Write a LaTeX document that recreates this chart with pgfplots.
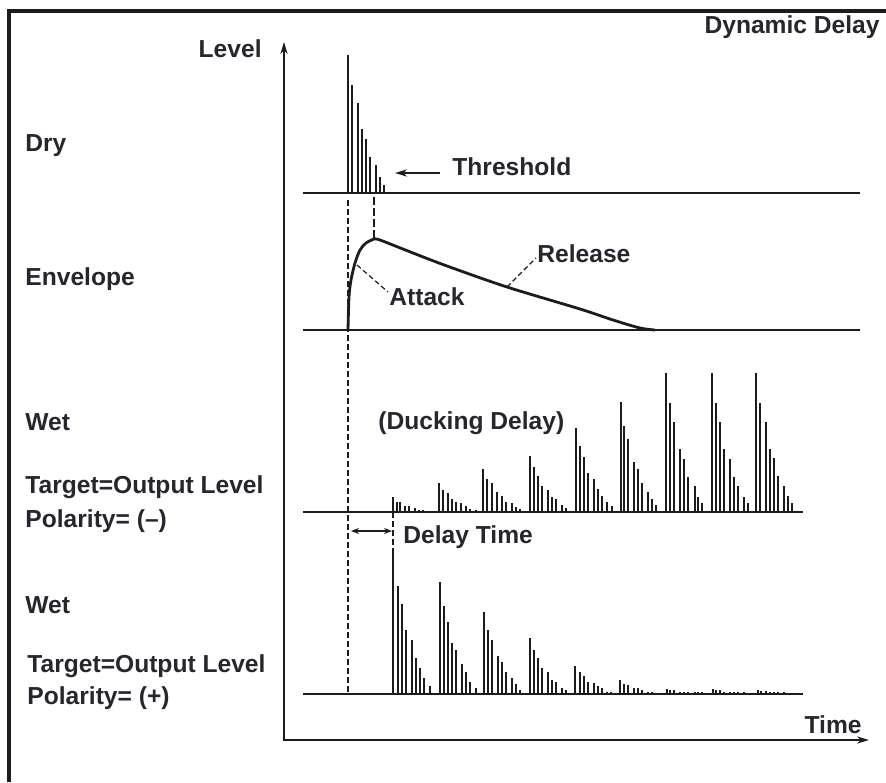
\documentclass[border=0pt]{standalone}
\usepackage{pgfplots}
\pgfplotsset{compat=1.18}
\usepackage{pgfplotstable}
\usepackage{fontspec}
\setmainfont{Liberation Sans}
\usetikzlibrary{arrows.meta}
\definecolor{ink}{HTML}{1C1C1C}
\definecolor{txt}{HTML}{26262E}

% bar trains: x position (px) and bar height (px above its baseline)
\pgfplotstableread{
x h
348 138
352 108
358 90
362 64
366 54
370 36
376 28
380 16
384 8
}\dry
\pgfplotstableread{
x h
393 15
397 10
400 10
405 6
409 6
415 4
419 2
423 2
439 29
443 22
448 19
452 13
456 10
461 9
466 6
470 3
476 2
483 43
487 33
492 29
497 20
502 16
506 10
512 9
516 5
520 3
530 56
534 45
538 36
542 26
548 22
552 15
556 13
562 7
566 4
576 84
580 66
584 55
588 39
594 33
598 23
602 16
607 10
612 6
621 110
624 86
628 73
634 50
638 43
642 29
648 20
652 13
656 7
666 139
670 109
674 90
680 63
684 53
688 35
695 26
698 15
702 9
712 139
716 109
720 90
724 63
730 53
734 35
738 26
744 15
748 9
756 139
760 109
766 90
770 63
774 54
778 36
784 26
788 16
792 9
}\wetduck
\pgfplotstableread{
x h
393 141
398 108
402 90
406 64
412 54
416 36
420 26
424 16
430 8
440 112
444 88
448 72
452 51
456 44
462 30
466 22
470 12
476 6
484 82
488 64
492 54
498 38
502 32
506 22
512 16
516 10
520 4
530 56
534 44
538 36
542 26
548 22
552 14
556 12
562 6
566 4
575 28
580 22
584 18
588 12
594 11
598 8
602 6
607 2
611 2
620 14
624 10
628 9
634 6
638 6
642 4
648 2
652 2
667 5
670 4
674 4
680 2
684 2
688 2
695 2
698 2
702 2
713 5
716 4
720 4
724 2
730 2
734 2
738 2
744 2
758 4
761 3
766 3
770 2
774 2
778 2
784 2
}\wetplus

\pgfplotsset{
  bars/.style={draw=none, forget plot,
    error bars/.cd, y dir=minus, y explicit, error mark=none,
    error bar style={draw=ink, line width=1.1pt, solid}},
}
\tikzset{lbl/.style={font=\fontsize{12.3}{14}\selectfont\bfseries, text=txt, inner sep=0pt}}

\begin{document}
\begin{tikzpicture}
\begin{axis}[
  width=443pt, height=391pt, scale only axis,
  xmin=0, xmax=886, ymin=0, ymax=782, y dir=reverse,
  hide axis, clip=false, no markers,
  cycle list={{draw=ink, line width=0.9pt}},
]
\coordinate (TL) at (axis cs:0,0);
\coordinate (BR) at (axis cs:886,782);

% frame
\addplot[ink, line width=1.6pt] coordinates {(9,782) (9,11) (886,11)};

% axes
\addplot[ink, line width=1pt, -{Stealth[length=6pt,width=3.6pt]}] coordinates {(284,740) (284,42)};
\addplot[ink, line width=1pt, -{Stealth[length=6pt,width=3.6pt]}] coordinates {(283,740) (869,740)};

% baselines
\addplot[ink, line width=1pt] coordinates {(303,193) (860,193)};
\addplot[ink, line width=1pt] coordinates {(303,330) (860,330)};
\addplot[ink, line width=1pt] coordinates {(303,512) (803,512)};
\addplot[ink, line width=1pt] coordinates {(303,694) (803,694)};

% bars
\addplot[bars] table[x=x, y expr=193, y error=h] {\dry};
\addplot[bars] table[x=x, y expr=512, y error=h] {\wetduck};
\addplot[bars] table[x=x, y expr=694, y error=h] {\wetplus};

% dashed guide lines
\addplot[ink, line width=0.7pt, dash pattern=on 3pt off 1.5pt] coordinates {(348,200) (348,693)};
\addplot[ink, line width=0.9pt, dash pattern=on 4pt off 1.5pt] coordinates {(374,197) (374,238)};
\addplot[ink, line width=0.7pt, dash pattern=on 3pt off 1.5pt] coordinates {(393,512) (393,553)};

% envelope
\addplot[ink, smooth, line width=1.4pt] coordinates {(348,330) (349,297) (351,280) (355,263) (360,250) (366,243) (374,239)};
\addplot[ink, smooth, line width=1.4pt] coordinates {(374,239) (380,240) (413,253) (447,266) (507,287) (580,309) (613,320) (640,328) (655,330)};

% leaders
\addplot[ink, line width=0.6pt, dash pattern=on 2.5pt off 1.5pt] coordinates {(357,265) (388,292)};
\addplot[ink, line width=0.6pt, dash pattern=on 2.5pt off 1.5pt] coordinates {(507,287) (536,258)};

% arrows
\addplot[ink, line width=1pt, -{Stealth[length=6pt,width=3.6pt]}] coordinates {(440,173) (395,173)};
\addplot[ink, line width=0.9pt, {Stealth[length=4pt,width=3pt]}-{Stealth[length=4pt,width=3pt]}] coordinates {(351,531) (392,531)};

% labels
\node[lbl, anchor=base east] at (axis cs:262,57) {Level};
\node[lbl, anchor=base east] at (axis cs:880,33) {Dynamic Delay};
\node[lbl, anchor=base west] at (axis cs:25,151) {Dry};
\node[lbl, anchor=base west] at (axis cs:452,175) {Threshold};
\node[lbl, anchor=base west] at (axis cs:25,285) {Envelope};
\node[lbl, anchor=base west] at (axis cs:537,262) {Release};
\node[lbl, anchor=base west] at (axis cs:389,305) {Attack};
\node[lbl, anchor=base west] at (axis cs:25,430) {Wet};
\node[lbl, anchor=base west] at (axis cs:378,429) {(Ducking Delay)};
\node[lbl, anchor=base west] at (axis cs:25,493) {Target=Output Level};
\node[lbl, anchor=base west] at (axis cs:25,527) {Polarity= (–)};
\node[lbl, anchor=base west] at (axis cs:403,543) {Delay Time};
\node[lbl, anchor=base west] at (axis cs:25,613) {Wet};
\node[lbl, anchor=base west] at (axis cs:27,672) {Target=Output Level};
\node[lbl, anchor=base west] at (axis cs:27,704) {Polarity= (+)};
\node[lbl, anchor=base east] at (axis cs:862,733) {Time};
\end{axis}
\pgfresetboundingbox
\path[use as bounding box] (TL) rectangle (BR);
\end{tikzpicture}
\end{document}
